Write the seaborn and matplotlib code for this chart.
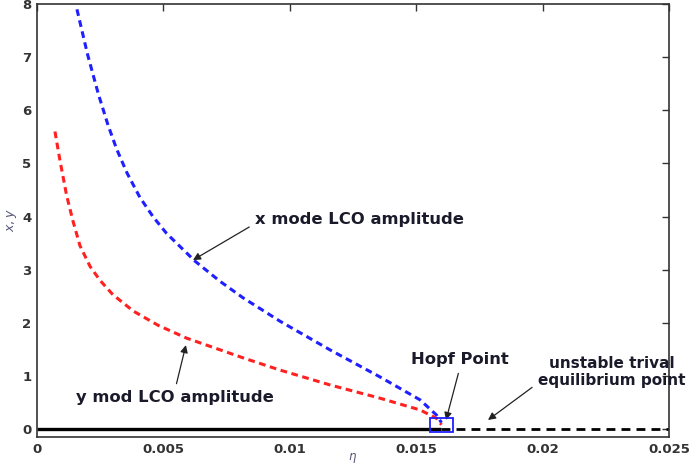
import matplotlib
matplotlib.use("Agg")
import matplotlib.pyplot as plt
from matplotlib.patches import Rectangle
import seaborn as sns
import pandas as pd

# ---- data ----
eta_x = [0.00158, 0.00200, 0.00243, 0.00281, 0.00315, 0.00356, 0.00407, 0.00460,
         0.00513, 0.00625, 0.00724, 0.00815, 0.00961, 0.01159, 0.01357, 0.01515,
         0.01581, 0.01600]
amp_x = [7.90, 7.05, 6.30, 5.72, 5.27, 4.82, 4.36, 3.99,
         3.68, 3.16, 2.78, 2.47, 2.03, 1.49, 0.98, 0.55,
         0.26, 0.12]

eta_y = [0.00071, 0.00091, 0.00117, 0.00142, 0.00170, 0.00210, 0.00249, 0.00300,
         0.00381, 0.00480, 0.00592, 0.00815, 0.00961, 0.01159, 0.01357, 0.01515,
         0.01581, 0.01600]
amp_y = [5.60, 5.05, 4.40, 3.92, 3.45, 3.06, 2.80, 2.53,
         2.22, 1.95, 1.71, 1.34, 1.11, 0.83, 0.58, 0.36,
         0.20, 0.08]

hopf_eta = 0.016
eta_max = 0.025
x_ticks = [0, 0.005, 0.01, 0.015, 0.02, 0.025]
x_ticklabels = ["0", "0.005", "0.01", "0.015", "0.02", "0.025"]
y_ticks = [0, 1, 2, 3, 4, 5, 6, 7, 8]

df_x = pd.DataFrame({"eta": eta_x, "amp": amp_x})
df_y = pd.DataFrame({"eta": eta_y, "amp": amp_y})

sns.set_style("white")
plt.rcParams["font.family"] = ["DejaVu Sans"]

fig = plt.figure(figsize=(6.89, 4.65), dpi=100)
ax = fig.add_axes([37 / 689, 28 / 465, 632 / 689, 433 / 465])

sns.lineplot(data=df_x, x="eta", y="amp", ax=ax, color="#1f1fff", lw=2.2,
             linestyle="--", sort=False, estimator=None)
sns.lineplot(data=df_y, x="eta", y="amp", ax=ax, color="#ff2020", lw=2.2,
             linestyle="--", sort=False, estimator=None)
for ln in ax.lines:
    ln.set_dashes((2.2, 1.5))

# trivial equilibrium: stable (solid) and unstable (dashed)
ax.plot([0, hopf_eta], [0, 0], color="black", lw=2.4, solid_capstyle="butt")
ln2, = ax.plot([hopf_eta, eta_max], [0, 0], color="black", lw=2.0)
ln2.set_dashes((3.2, 2.2))

# Hopf point box
ax.add_patch(Rectangle((hopf_eta - 0.00045, -0.05), 0.0009, 0.26,
                       fill=False, edgecolor="#1f1fff", lw=1.3, zorder=5))

ax.set_xlim(0, eta_max)
ax.set_ylim(-0.15, 8)
ax.set_xticks(x_ticks)
ax.set_xticklabels(x_ticklabels)
ax.set_yticks(y_ticks)
ax.tick_params(direction="in", length=5, width=1.0, top=True, right=True,
               labelsize=9.5, colors="#333333", pad=4)
for lab in ax.get_xticklabels() + ax.get_yticklabels():
    lab.set_fontweight("bold")
for sp in ax.spines.values():
    sp.set_color("#333333")
    sp.set_linewidth(1.2)

ax.set_xlabel(r"$\eta$", fontsize=8.5, color="#555577", labelpad=-3)
ax.set_ylabel(r"$x,y$", fontsize=9, color="#555577", labelpad=2)

txt_kw = dict(fontsize=11.8, fontweight="bold", color="#1a1a2a")
arr = dict(arrowstyle="-|>", color="#222222", lw=0.9, mutation_scale=11,
           shrinkA=2, shrinkB=0)

ax.annotate("x mode LCO amplitude", xy=(0.00617, 3.18), xytext=(0.00862, 3.95),
            ha="left", va="center",
            arrowprops=dict(arr, relpos=(0.0, 0.2)), **txt_kw)
ax.annotate("y mod LCO amplitude", xy=(0.00589, 1.58), xytext=(0.00546, 0.60),
            ha="center", va="center",
            arrowprops=dict(arr, relpos=(0.5, 1.0)), **txt_kw)
ax.annotate("Hopf Point", xy=(0.01618, 0.17), xytext=(0.01673, 1.30),
            ha="center", va="center",
            arrowprops=dict(arr, relpos=(0.5, 0.0)), **txt_kw)
ax.annotate("unstable trival\nequilibrium point", xy=(0.01784, 0.17),
            xytext=(0.02272, 1.07), ha="center", va="center",
            linespacing=1.15, annotation_clip=False,
            arrowprops=dict(arr, relpos=(0.0, 0.15)),
            fontsize=11, fontweight="bold", color="#1a1a2a")

fig.savefig("out.png", dpi=100)
